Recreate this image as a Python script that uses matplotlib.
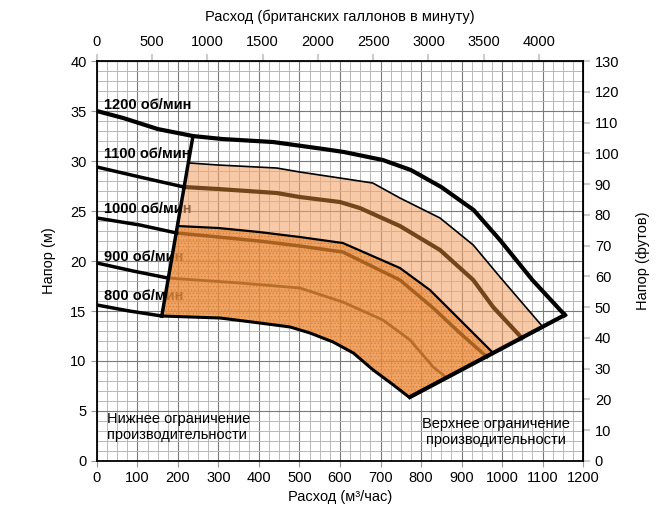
import numpy as np
import matplotlib.pyplot as plt

plt.rcParams['font.family'] = ['Liberation Sans', 'DejaVu Sans']

# curves, flow in m3/h, head in m
c1200_x = [0, 65, 150, 237, 310, 435, 560, 610, 706, 775, 850, 930, 995, 1075, 1155]
c1200_y = [35.0, 34.3, 33.2, 32.5, 32.2, 31.9, 31.2, 30.9, 30.1, 29.1, 27.4, 25.1, 22.1, 18.1, 14.6]

c1100_left_x = [0, 106, 215]
c1100_left_y = [29.4, 28.4, 27.4]
c1100_x = [215, 300, 444, 501, 600, 649, 748, 847, 929, 978, 1049]
c1100_y = [27.4, 27.2, 26.8, 26.4, 25.9, 25.3, 23.5, 21.1, 18.1, 15.4, 12.3]

top_x = [230, 300, 444, 501, 600, 681, 748, 847, 929, 995, 1101]
top_y = [29.8, 29.6, 29.3, 28.9, 28.3, 27.8, 26.3, 24.3, 21.6, 18.4, 13.4]

c1000_left_x = [0, 106, 197]
c1000_left_y = [24.3, 23.6, 22.8]
c1000_x = [197, 300, 400, 501, 607, 748, 830, 896, 963]
c1000_y = [22.8, 22.4, 22.0, 21.5, 20.9, 18.1, 15.3, 12.8, 10.4]

mid_x = [199, 300, 400, 501, 607, 748, 822, 889, 978]
mid_y = [23.5, 23.3, 22.9, 22.4, 21.8, 19.3, 17.1, 14.4, 10.8]

c900_left_x = [0, 89, 175]
c900_left_y = [19.8, 19.0, 18.3]
c900_x = [175, 353, 501, 607, 706, 773, 830, 861]
c900_y = [18.3, 17.8, 17.3, 15.9, 14.1, 12.1, 9.4, 8.4]

c800_left_x = [0, 80, 160]
c800_left_y = [15.6, 15.0, 14.5]
c800_x = [160, 304, 402, 477, 526, 583, 633, 682, 732, 770]
c800_y = [14.5, 14.3, 13.8, 13.4, 12.8, 11.9, 10.8, 9.1, 7.6, 6.4]

lim_lo_x = [160, 237]
lim_lo_y = [14.5, 32.5]
lim_hi_x = [773, 1155]
lim_hi_y = [6.4, 14.6]

rpm_labels = ['1200 об/мин', '1100 об/мин', '1000 об/мин', '900 об/мин', '800 об/мин']
rpm_label_y = [35.6, 30.7, 25.2, 20.4, 16.5]

GAL = 0.272765   # m3/h per UK gallon per minute
FT = 3.25        # feet per metre on this chart

fig = plt.figure(figsize=(6.72, 5.13), dpi=100)
ax = fig.add_axes([0.1443, 0.1014, 0.7233, 0.7796])
ax.set_xlim(0, 1200)
ax.set_ylim(0, 40)

# grid
ax.set_xticks(np.arange(0, 1201, 100))
ax.set_yticks(np.arange(0, 41, 5))
ax.set_xticks(np.arange(0, 1201, 25), minor=True)
ax.set_yticks(np.arange(0, 41, 1), minor=True)
ax.grid(which='minor', color='#b8b8b8', lw=0.7, zorder=0)
ax.grid(which='major', color='#7a7a7a', lw=0.8, zorder=0)
ax.set_axisbelow(True)
ax.tick_params(which='minor', length=0)
ax.tick_params(which='major', labelsize=10.5, length=4, color='#999999')
for s in ax.spines.values():
    s.set_linewidth(1.3)

# filled regions
light_px = np.concatenate([top_x, mid_x[::-1]])
light_py = np.concatenate([top_y, mid_y[::-1]])
ax.fill(light_px, light_py, color='#f2a56c', alpha=0.6, lw=0, zorder=3)

dark_px = np.concatenate([mid_x, c800_x[::-1]])
dark_py = np.concatenate([mid_y, c800_y[::-1]])
plt.rcParams['hatch.linewidth'] = 0.6
ax.fill(dark_px, dark_py, facecolor='#ec8c3e', edgecolor='#d97a2c', alpha=0.8,
        hatch='.....', lw=0, zorder=3)

# rpm labels (under the fills)
for lab, y in zip(rpm_labels, rpm_label_y):
    ax.text(17, y, lab, fontsize=10.5, fontweight='bold', va='center', ha='left', zorder=2)

# curves
ax.plot(c1200_x, c1200_y, color='black', lw=3, zorder=5)
for lx, ly in [(c1100_left_x, c1100_left_y), (c1000_left_x, c1000_left_y),
               (c900_left_x, c900_left_y), (c800_left_x, c800_left_y)]:
    ax.plot(lx, ly, color='black', lw=2.5, zorder=5)
ax.plot(top_x, top_y, color='black', lw=1.2, zorder=5)
ax.plot(mid_x, mid_y, color='black', lw=1.6, zorder=5)
ax.plot(c800_x, c800_y, color='black', lw=2.2, zorder=5)
ax.plot(c1100_x, c1100_y, color='#74441a', lw=3, zorder=4)
ax.plot(c1000_x, c1000_y, color='#a8601e', lw=2.5, zorder=4)
ax.plot(c900_x, c900_y, color='#b86e2a', lw=2, zorder=4)
ax.plot(lim_lo_x, lim_lo_y, color='black', lw=2.5, zorder=6)
ax.plot(lim_hi_x, lim_hi_y, color='black', lw=3, zorder=6)

ax.text(25, 3.4, 'Нижнее ограничение\nпроизводительности', fontsize=10.5,
        ha='left', va='center', zorder=6)
ax.text(985, 2.9, 'Верхнее ограничение\nпроизводительности', fontsize=10.5,
        ha='center', va='center', zorder=6)

ax.set_xlabel('Расход (м³/час)', fontsize=10.5, labelpad=3)
ax.set_ylabel('Напор (м)', fontsize=10.5, labelpad=10)

# secondary axes
top = ax.secondary_xaxis('top', functions=(lambda x: x / GAL, lambda g: g * GAL))
top.set_xticks(np.arange(0, 4001, 500))
top.tick_params(labelsize=10.5, length=5, width=1.5, color='#cccccc')
top.set_xlabel('Расход (британских галлонов в минуту)', fontsize=10.5, labelpad=10)

right = ax.secondary_yaxis('right', functions=(lambda m: m * FT, lambda f: f / FT))
right.set_yticks(np.arange(0, 131, 10))
right.tick_params(labelsize=10.5, length=5, width=1.5, color='#cccccc')
right.set_ylabel('Напор (футов)', fontsize=10.5, labelpad=12)

fig.savefig('out.png', dpi=100)
